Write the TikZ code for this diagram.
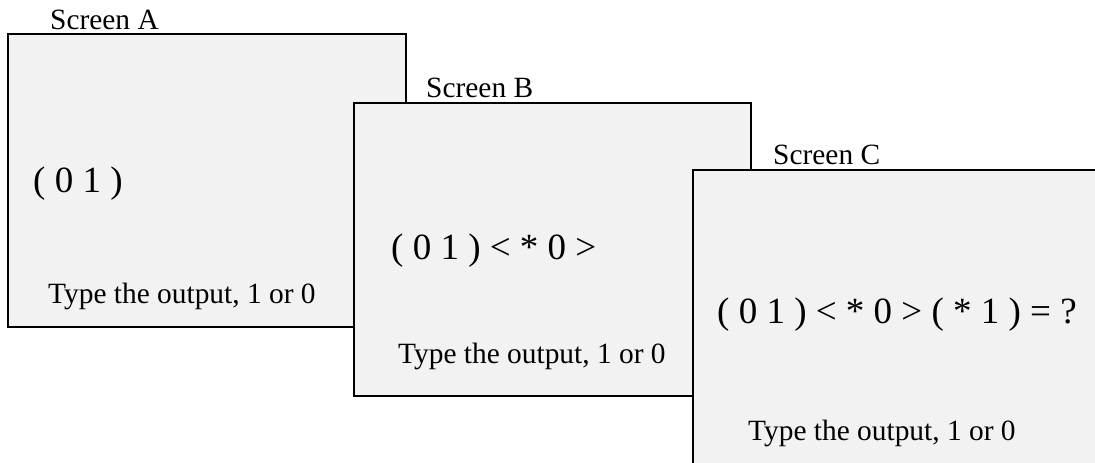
\documentclass[tikz,border=0pt]{standalone}
\usepackage{fontspec}
\setmainfont{Liberation Serif}
\definecolor{screenfill}{RGB}{242,242,242}
\begin{document}
\begin{tikzpicture}[x=1pt,y=-1pt,
  screen/.style={draw=black, line width=1.6pt, fill=screenfill, anchor=north west,
                 inner sep=0pt, outer sep=0pt},
  caption/.style={anchor=base west, inner sep=0pt, font=\fontsize{29.4}{34}\selectfont},
  expr/.style={anchor=base west, inner sep=0pt, font=\fontsize{37}{43}\selectfont}]
  \useasboundingbox (0,0) rectangle (1095,463);
  \clip (0,0) rectangle (1095,463);

  % Screen A
  \node[screen, minimum width=398pt, minimum height=293pt] (scrA) at (8,34) {};
  \node[caption] (labA) at (50,29) {Screen A};
  \node[expr] (exprA) at (33,192) {( 0 1 )};
  \node[caption] (typeA) at (48,303) {Type the output, 1 or 0};

  % Screen B
  \node[screen, minimum width=397pt, minimum height=293pt] (scrB) at (354,103) {};
  \node[caption] (labB) at (426,97) {Screen B};
  \node[expr] (exprB) at (391,259) {( 0 1 ) < * 0 >};
  \node[caption] (typeB) at (398,363) {Type the output, 1 or 0};

  % Screen C (runs past the right and bottom edges)
  \node[screen, minimum width=420pt, minimum height=310pt] (scrC) at (693,170) {};
  \node[caption] (labC) at (773,164) {Screen C};
  \node[expr] (exprC) at (717,323) {( 0 1 ) < * 0 > ( * 1 ) = ?};
  \node[caption] (typeC) at (748,440) {Type the output, 1 or 0};
\end{tikzpicture}
\end{document}
